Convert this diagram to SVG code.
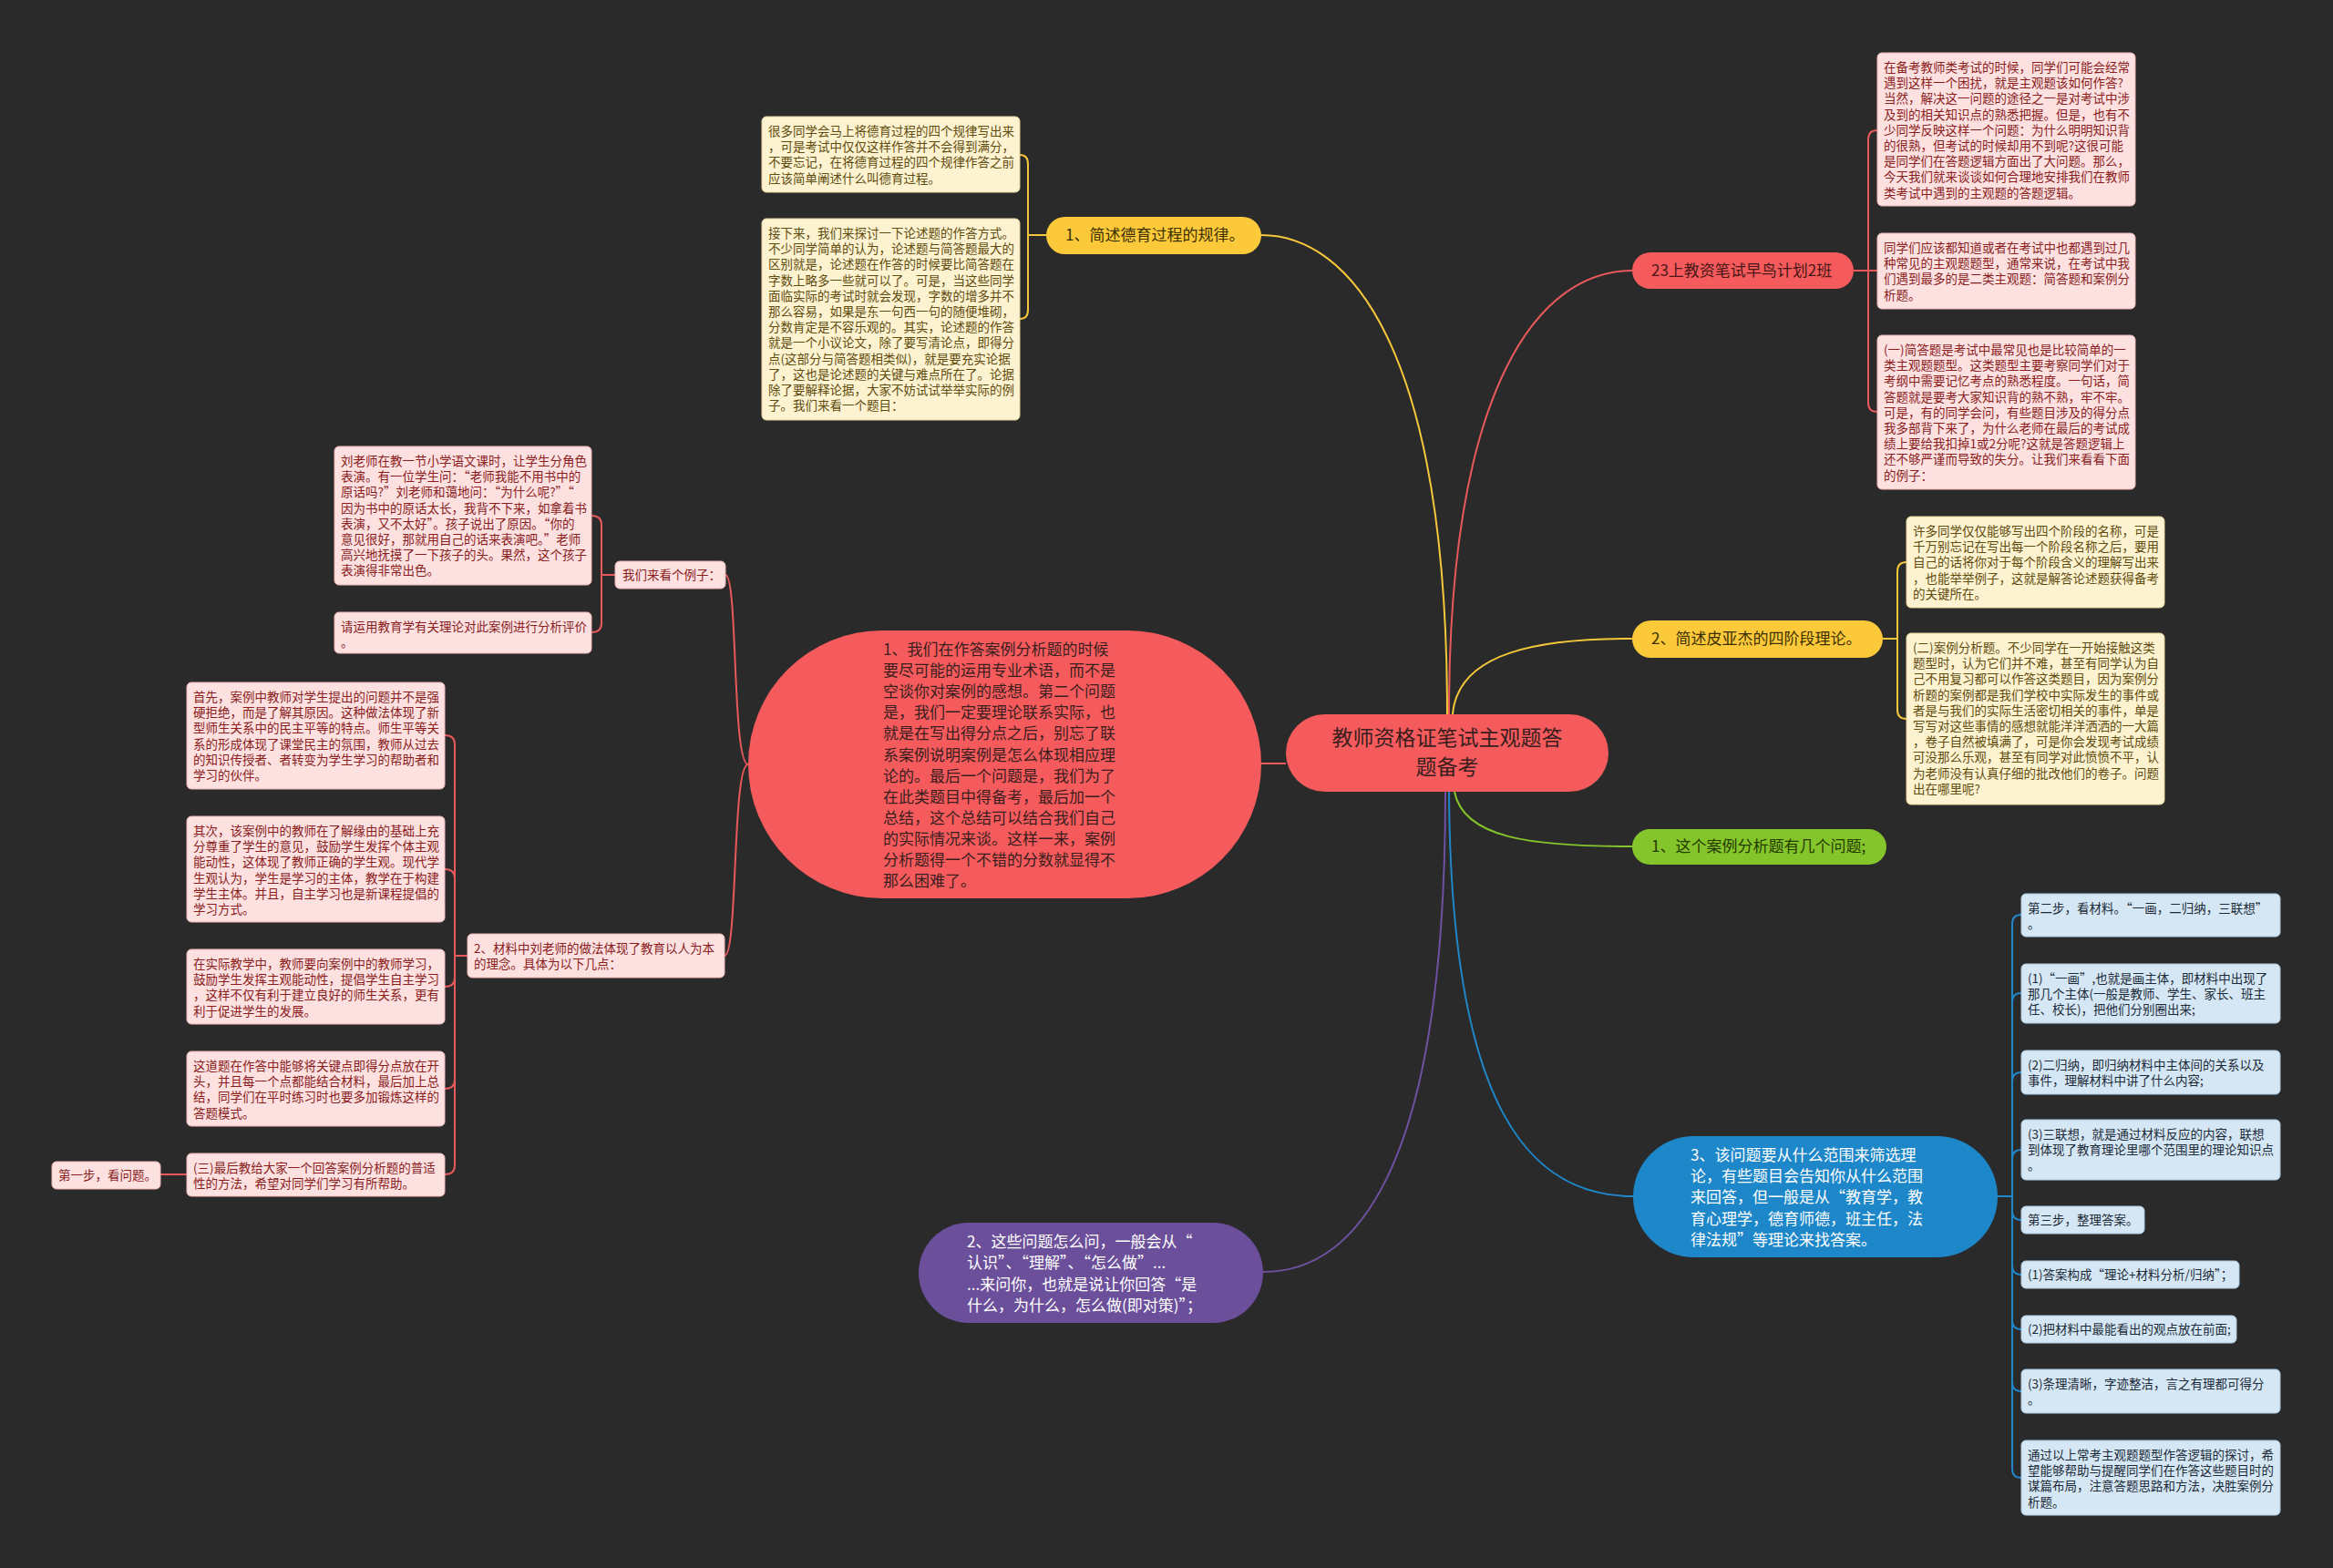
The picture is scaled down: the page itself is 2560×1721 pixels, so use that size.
<svg xmlns="http://www.w3.org/2000/svg" width="2560" height="1721" viewBox="0 0 2560 1721">
<style>
text{font-family:"Noto Sans CJK SC","Noto Sans",sans-serif}
.note text{font-size:13.5px}
.ny rect{fill:#fdf3d1;stroke:#e6d49a;stroke-width:1}
.ny text{fill:#5f4b0d}
.nr rect{fill:#fde1e1;stroke:#eeb4b4;stroke-width:1}
.nr text{fill:#8a1c1c}
.nb rect{fill:#d5e7f4;stroke:#aecbe2;stroke-width:1}
.nb text{fill:#1b2a38}
.br text{font-size:17px}
.big text{font-size:17px}
#connectors path{fill:none;stroke-width:2}
.cr{stroke:#e8595b}
.cy{stroke:#f4c63b}
.cg{stroke:#84c52b}
.cb{stroke:#1f86c8}
.cp{stroke:#6e51a0}
</style>
<rect width="2560" height="1721" fill="#2a2a2a"/>
<g id="connectors">
<path class="cy" d="M1588,784 C1588,380 1480,258 1384,258"/>
<path class="cr" d="M1590,784 C1590,420 1690,297 1791,297"/>
<path class="cy" d="M1594,784 C1600,715 1690,701 1791,701"/>
<path class="cg" d="M1596,869 C1606,920 1680,929 1791,929"/>
<path class="cb" d="M1590,869 C1592,1220 1680,1313 1792,1313"/>
<path class="cp" d="M1586,869 C1586,1300 1480,1396 1386,1396"/>
<path class="cr" d="M1411,838 H1384"/>
<path class="cr" d="M821,839 C803,839 810,631 796,631"/>
<path class="cr" d="M821,839 C803,839 810,1049 795,1049"/>
<path class="cy" d="M1148,258 H1128 V180 Q1128,170 1119,170"/>
<path class="cy" d="M1148,258 H1128 V340 Q1128,350 1119,350"/>
<path class="cr" d="M2034,297 H2050 V153 Q2050,143 2060,143"/>
<path class="cr" d="M2034,297 H2060"/>
<path class="cr" d="M2034,297 H2050 V442 Q2050,452 2060,452"/>
<path class="cy" d="M2066,701 H2082 V627 Q2082,617 2092,617"/>
<path class="cy" d="M2066,701 H2082 V779 Q2082,789 2092,789"/>
<path class="cr" d="M675,631 H660 V576 Q660,566 649,566"/>
<path class="cr" d="M675,631 H660 V684 Q660,694 649,694"/>
<path class="cr" d="M513,1049 H499 V817 Q499,807 488,807"/>
<path class="cr" d="M513,1049 H499 V964 Q499,954 488,954"/>
<path class="cr" d="M513,1049 H499 V1073 Q499,1083 488,1083"/>
<path class="cr" d="M513,1049 H499 V1185 Q499,1195 488,1195"/>
<path class="cr" d="M513,1049 H499 V1279 Q499,1289 488,1289"/>
<path class="cr" d="M205,1289 H176"/>
<path class="cb" d="M2192,1313 H2208 V1014 Q2208,1004 2218,1004"/>
<path class="cb" d="M2192,1313 H2208 V1100 Q2208,1090 2218,1090"/>
<path class="cb" d="M2192,1313 H2208 V1187 Q2208,1177 2218,1177"/>
<path class="cb" d="M2192,1313 H2208 V1272 Q2208,1262 2218,1262"/>
<path class="cb" d="M2192,1313 H2208 V1329 Q2208,1339 2218,1339"/>
<path class="cb" d="M2192,1313 H2208 V1389 Q2208,1399 2218,1399"/>
<path class="cb" d="M2192,1313 H2208 V1449 Q2208,1459 2218,1459"/>
<path class="cb" d="M2192,1313 H2208 V1517 Q2208,1527 2218,1527"/>
<path class="cb" d="M2192,1313 H2208 V1612 Q2208,1622 2218,1622"/>
</g>

<g id="root">
<rect x="1411" y="784" width="354" height="85" rx="42.5" fill="#f55b5c"/>
<text x="1588" y="818" font-size="23" fill="#3a1e1e" text-anchor="middle"><tspan x="1588">教师资格证笔试主观题答</tspan><tspan x="1588" dy="32">题备考</tspan></text>
</g>

<g id="b-deyu" class="br">
<rect x="1148" y="238" width="236" height="41" rx="20.5" fill="#fcc93b"/>
<text x="1169" y="264" fill="#3d3000">1、简述德育过程的规律。</text>
</g>
<g id="b-23" class="br">
<rect x="1791" y="277" width="243" height="40" rx="20" fill="#f55b5c"/>
<text x="1812" y="303" fill="#4a1616">23上教资笔试早鸟计划2班</text>
</g>
<g id="b-piaget" class="br">
<rect x="1791" y="681" width="275" height="41" rx="20.5" fill="#fcc93b"/>
<text x="1812" y="707" fill="#3d3000">2、简述皮亚杰的四阶段理论。</text>
</g>
<g id="b-q" class="br">
<rect x="1791" y="910" width="279" height="39" rx="19.5" fill="#84c52b"/>
<text x="1812" y="935" fill="#243a00">1、这个案例分析题有几个问题;</text>
</g>

<g id="b-case" class="big">
<rect x="821" y="692" width="563" height="294" rx="147" fill="#f55b5c"/>
<text x="969" y="719" fill="#3a1e1e"><tspan x="969">1、我们在作答案例分析题的时候</tspan><tspan x="969" dy="23.1">要尽可能的运用专业术语，而不是</tspan><tspan x="969" dy="23.1">空谈你对案例的感想。第二个问题</tspan><tspan x="969" dy="23.1">是，我们一定要理论联系实际，也</tspan><tspan x="969" dy="23.1">就是在写出得分点之后，别忘了联</tspan><tspan x="969" dy="23.1">系案例说明案例是怎么体现相应理</tspan><tspan x="969" dy="23.1">论的。最后一个问题是，我们为了</tspan><tspan x="969" dy="23.1">在此类题目中得备考，最后加一个</tspan><tspan x="969" dy="23.1">总结，这个总结可以结合我们自己</tspan><tspan x="969" dy="23.1">的实际情况来谈。这样一来，案例</tspan><tspan x="969" dy="23.1">分析题得一个不错的分数就显得不</tspan><tspan x="969" dy="23.1">那么困难了。</tspan></text>
</g>

<g id="b-how" class="big">
<rect x="1008" y="1342" width="378" height="110" rx="55" fill="#6c4f9b"/>
<text x="1061" y="1369" fill="#ffffff"><tspan x="1061">2、这些问题怎么问，一般会从“</tspan><tspan x="1061" dy="23.3">认识”、“理解”、“怎么做”...</tspan><tspan x="1061" dy="23.3">...来问你，也就是说让你回答“是</tspan><tspan x="1061" dy="23.3">什么，为什么，怎么做(即对策)”；</tspan></text>
</g>

<g id="b-range" class="big">
<rect x="1792" y="1247" width="400" height="133" rx="66.5" fill="#1d87c9"/>
<text x="1855" y="1274" fill="#ffffff"><tspan x="1855">3、该问题要从什么范围来筛选理</tspan><tspan x="1855" dy="23.2">论，有些题目会告知你从什么范围</tspan><tspan x="1855" dy="23.2">来回答，但一般是从“教育学，教</tspan><tspan x="1855" dy="23.2">育心理学，德育师德，班主任，法</tspan><tspan x="1855" dy="23.2">律法规”等理论来找答案。</tspan></text>
</g>

<g id="n-ya" class="note ny">
<rect x="836" y="128" width="283" height="83" rx="5"/>
<text x="843" y="149"><tspan x="843">很多同学会马上将德育过程的四个规律写出来</tspan><tspan x="843" dy="17.2">，可是考试中仅仅这样作答并不会得到满分，</tspan><tspan x="843" dy="17.2">不要忘记，在将德育过程的四个规律作答之前</tspan><tspan x="843" dy="17.2">应该简单阐述什么叫德育过程。</tspan></text>
</g>
<g id="n-yb" class="note ny">
<rect x="836" y="240" width="283" height="221" rx="5"/>
<text x="843" y="261"><tspan x="843">接下来，我们来探讨一下论述题的作答方式。</tspan><tspan x="843" dy="17.2">不少同学简单的认为，论述题与简答题最大的</tspan><tspan x="843" dy="17.2">区别就是，论述题在作答的时候要比简答题在</tspan><tspan x="843" dy="17.2">字数上略多一些就可以了。可是，当这些同学</tspan><tspan x="843" dy="17.2">面临实际的考试时就会发现，字数的增多并不</tspan><tspan x="843" dy="17.2">那么容易，如果是东一句西一句的随便堆砌，</tspan><tspan x="843" dy="17.2">分数肯定是不容乐观的。其实，论述题的作答</tspan><tspan x="843" dy="17.2">就是一个小议论文，除了要写清论点，即得分</tspan><tspan x="843" dy="17.2">点(这部分与简答题相类似)，就是要充实论据</tspan><tspan x="843" dy="17.2">了，这也是论述题的关键与难点所在了。论据</tspan><tspan x="843" dy="17.2">除了要解释论据，大家不妨试试举举实际的例</tspan><tspan x="843" dy="17.2">子。我们来看一个题目：</tspan></text>
</g>

<g id="n-r1" class="note nr">
<rect x="2060" y="58" width="283" height="168" rx="5"/>
<text x="2067" y="79"><tspan x="2067">在备考教师类考试的时候，同学们可能会经常</tspan><tspan x="2067" dy="17.2">遇到这样一个困扰，就是主观题该如何作答?</tspan><tspan x="2067" dy="17.2">当然，解决这一问题的途径之一是对考试中涉</tspan><tspan x="2067" dy="17.2">及到的相关知识点的熟悉把握。但是，也有不</tspan><tspan x="2067" dy="17.2">少同学反映这样一个问题：为什么明明知识背</tspan><tspan x="2067" dy="17.2">的很熟，但考试的时候却用不到呢?这很可能</tspan><tspan x="2067" dy="17.2">是同学们在答题逻辑方面出了大问题。那么，</tspan><tspan x="2067" dy="17.2">今天我们就来谈谈如何合理地安排我们在教师</tspan><tspan x="2067" dy="17.2">类考试中遇到的主观题的答题逻辑。</tspan></text>
</g>
<g id="n-r2" class="note nr">
<rect x="2060" y="256" width="283" height="83" rx="5"/>
<text x="2067" y="277"><tspan x="2067">同学们应该都知道或者在考试中也都遇到过几</tspan><tspan x="2067" dy="17.2">种常见的主观题题型，通常来说，在考试中我</tspan><tspan x="2067" dy="17.2">们遇到最多的是二类主观题：简答题和案例分</tspan><tspan x="2067" dy="17.2">析题。</tspan></text>
</g>
<g id="n-r3" class="note nr">
<rect x="2060" y="368" width="283" height="169" rx="5"/>
<text x="2067" y="389"><tspan x="2067">(一)简答题是考试中最常见也是比较简单的一</tspan><tspan x="2067" dy="17.2">类主观题题型。这类题型主要考察同学们对于</tspan><tspan x="2067" dy="17.2">考纲中需要记忆考点的熟悉程度。一句话，简</tspan><tspan x="2067" dy="17.2">答题就是要考大家知识背的熟不熟，牢不牢。</tspan><tspan x="2067" dy="17.2">可是，有的同学会问，有些题目涉及的得分点</tspan><tspan x="2067" dy="17.2">我多部背下来了，为什么老师在最后的考试成</tspan><tspan x="2067" dy="17.2">绩上要给我扣掉1或2分呢?这就是答题逻辑上</tspan><tspan x="2067" dy="17.2">还不够严谨而导致的失分。让我们来看看下面</tspan><tspan x="2067" dy="17.2">的例子：</tspan></text>
</g>

<g id="n-y1" class="note ny">
<rect x="2092" y="567" width="283" height="100" rx="5"/>
<text x="2099" y="588"><tspan x="2099">许多同学仅仅能够写出四个阶段的名称，可是</tspan><tspan x="2099" dy="17.2">千万别忘记在写出每一个阶段名称之后，要用</tspan><tspan x="2099" dy="17.2">自己的话将你对于每个阶段含义的理解写出来</tspan><tspan x="2099" dy="17.2">，也能举举例子，这就是解答论述题获得备考</tspan><tspan x="2099" dy="17.2">的关键所在。</tspan></text>
</g>
<g id="n-y2" class="note ny">
<rect x="2092" y="695" width="283" height="188" rx="5"/>
<text x="2099" y="716"><tspan x="2099">(二)案例分析题。不少同学在一开始接触这类</tspan><tspan x="2099" dy="17.2">题型时，认为它们并不难，甚至有同学认为自</tspan><tspan x="2099" dy="17.2">己不用复习都可以作答这类题目，因为案例分</tspan><tspan x="2099" dy="17.2">析题的案例都是我们学校中实际发生的事件或</tspan><tspan x="2099" dy="17.2">者是与我们的实际生活密切相关的事件，单是</tspan><tspan x="2099" dy="17.2">写写对这些事情的感想就能洋洋洒洒的一大篇</tspan><tspan x="2099" dy="17.2">，卷子自然被填满了，可是你会发现考试成绩</tspan><tspan x="2099" dy="17.2">可没那么乐观，甚至有同学对此愤愤不平，认</tspan><tspan x="2099" dy="17.2">为老师没有认真仔细的批改他们的卷子。问题</tspan><tspan x="2099" dy="17.2">出在哪里呢?</tspan></text>
</g>

<g id="n-e1" class="note nr">
<rect x="367" y="490" width="282" height="152" rx="5"/>
<text x="374" y="511"><tspan x="374">刘老师在教一节小学语文课时，让学生分角色</tspan><tspan x="374" dy="17.2">表演。有一位学生问：“老师我能不用书中的</tspan><tspan x="374" dy="17.2">原话吗?”刘老师和蔼地问：“为什么呢?”“</tspan><tspan x="374" dy="17.2">因为书中的原话太长，我背不下来，如拿着书</tspan><tspan x="374" dy="17.2">表演，又不太好”。孩子说出了原因。“你的</tspan><tspan x="374" dy="17.2">意见很好，那就用自己的话来表演吧。”老师</tspan><tspan x="374" dy="17.2">高兴地抚摸了一下孩子的头。果然，这个孩子</tspan><tspan x="374" dy="17.2">表演得非常出色。</tspan></text>
</g>
<g id="n-e2" class="note nr">
<rect x="367" y="672" width="282" height="45" rx="5"/>
<text x="374" y="693"><tspan x="374">请运用教育学有关理论对此案例进行分析评价</tspan><tspan x="374" dy="17.2">。</tspan></text>
</g>
<g id="n-ex" class="note nr">
<rect x="675" y="616" width="121" height="30" rx="5"/>
<text x="683" y="636">我们来看个例子：</text>
</g>

<g id="n-m2" class="note nr">
<rect x="513" y="1025" width="282" height="48" rx="5"/>
<text x="520" y="1046"><tspan x="520">2、材料中刘老师的做法体现了教育以人为本</tspan><tspan x="520" dy="17.2">的理念。具体为以下几点：</tspan></text>
</g>
<g id="n-l1" class="note nr">
<rect x="205" y="749" width="283" height="117" rx="5"/>
<text x="212" y="770"><tspan x="212">首先，案例中教师对学生提出的问题并不是强</tspan><tspan x="212" dy="17.2">硬拒绝，而是了解其原因。这种做法体现了新</tspan><tspan x="212" dy="17.2">型师生关系中的民主平等的特点。师生平等关</tspan><tspan x="212" dy="17.2">系的形成体现了课堂民主的氛围，教师从过去</tspan><tspan x="212" dy="17.2">的知识传授者、者转变为学生学习的帮助者和</tspan><tspan x="212" dy="17.2">学习的伙伴。</tspan></text>
</g>
<g id="n-l2" class="note nr">
<rect x="205" y="896" width="283" height="116" rx="5"/>
<text x="212" y="917"><tspan x="212">其次，该案例中的教师在了解缘由的基础上充</tspan><tspan x="212" dy="17.2">分尊重了学生的意见，鼓励学生发挥个体主观</tspan><tspan x="212" dy="17.2">能动性，这体现了教师正确的学生观。现代学</tspan><tspan x="212" dy="17.2">生观认为，学生是学习的主体，教学在于构建</tspan><tspan x="212" dy="17.2">学生主体。并且，自主学习也是新课程提倡的</tspan><tspan x="212" dy="17.2">学习方式。</tspan></text>
</g>
<g id="n-l3" class="note nr">
<rect x="205" y="1042" width="283" height="82" rx="5"/>
<text x="212" y="1063"><tspan x="212">在实际教学中，教师要向案例中的教师学习，</tspan><tspan x="212" dy="17.2">鼓励学生发挥主观能动性，提倡学生自主学习</tspan><tspan x="212" dy="17.2">，这样不仅有利于建立良好的师生关系，更有</tspan><tspan x="212" dy="17.2">利于促进学生的发展。</tspan></text>
</g>
<g id="n-l4" class="note nr">
<rect x="205" y="1154" width="283" height="82" rx="5"/>
<text x="212" y="1175"><tspan x="212">这道题在作答中能够将关键点即得分点放在开</tspan><tspan x="212" dy="17.2">头，并且每一个点都能结合材料，最后加上总</tspan><tspan x="212" dy="17.2">结，同学们在平时练习时也要多加锻炼这样的</tspan><tspan x="212" dy="17.2">答题模式。</tspan></text>
</g>
<g id="n-l5" class="note nr">
<rect x="205" y="1266" width="283" height="47" rx="5"/>
<text x="212" y="1287"><tspan x="212">(三)最后教给大家一个回答案例分析题的普适</tspan><tspan x="212" dy="17.2">性的方法，希望对同学们学习有所帮助。</tspan></text>
</g>
<g id="n-step1" class="note nr">
<rect x="57" y="1275" width="119" height="30" rx="5"/>
<text x="64" y="1295">第一步，看问题。</text>
</g>

<g id="n-b1" class="note nb">
<rect x="2218" y="981" width="284" height="47" rx="5"/>
<text x="2225" y="1002"><tspan x="2225">第二步，看材料。“一画，二归纳，三联想”</tspan><tspan x="2225" dy="17.2">。</tspan></text>
</g>
<g id="n-b2" class="note nb">
<rect x="2218" y="1058" width="284" height="65" rx="5"/>
<text x="2225" y="1079"><tspan x="2225">(1)“一画”,也就是画主体，即材料中出现了</tspan><tspan x="2225" dy="17.2">那几个主体(一般是教师、学生、家长、班主</tspan><tspan x="2225" dy="17.2">任、校长)，把他们分别圈出来;</tspan></text>
</g>
<g id="n-b3" class="note nb">
<rect x="2218" y="1153" width="284" height="48" rx="5"/>
<text x="2225" y="1174"><tspan x="2225">(2)二归纳，即归纳材料中主体间的关系以及</tspan><tspan x="2225" dy="17.2">事件，理解材料中讲了什么内容;</tspan></text>
</g>
<g id="n-b4" class="note nb">
<rect x="2218" y="1229" width="284" height="66" rx="5"/>
<text x="2225" y="1250"><tspan x="2225">(3)三联想，就是通过材料反应的内容，联想</tspan><tspan x="2225" dy="17.2">到体现了教育理论里哪个范围里的理论知识点</tspan><tspan x="2225" dy="17.2">。</tspan></text>
</g>
<g id="n-b5" class="note nb">
<rect x="2218" y="1324" width="135" height="30" rx="5"/>
<text x="2225" y="1344">第三步，整理答案。</text>
</g>
<g id="n-b6" class="note nb">
<rect x="2218" y="1384" width="239" height="30" rx="5"/>
<text x="2225" y="1404">(1)答案构成“理论+材料分析/归纳”；</text>
</g>
<g id="n-b7" class="note nb">
<rect x="2218" y="1444" width="236" height="30" rx="5"/>
<text x="2225" y="1464">(2)把材料中最能看出的观点放在前面;</text>
</g>
<g id="n-b8" class="note nb">
<rect x="2218" y="1503" width="284" height="48" rx="5"/>
<text x="2225" y="1524"><tspan x="2225">(3)条理清晰，字迹整洁，言之有理都可得分</tspan><tspan x="2225" dy="17.2">。</tspan></text>
</g>
<g id="n-b9" class="note nb">
<rect x="2218" y="1581" width="284" height="82" rx="5"/>
<text x="2225" y="1602"><tspan x="2225">通过以上常考主观题题型作答逻辑的探讨，希</tspan><tspan x="2225" dy="17.2">望能够帮助与提醒同学们在作答这些题目时的</tspan><tspan x="2225" dy="17.2">谋篇布局，注意答题思路和方法，决胜案例分</tspan><tspan x="2225" dy="17.2">析题。</tspan></text>
</g>
</svg>
